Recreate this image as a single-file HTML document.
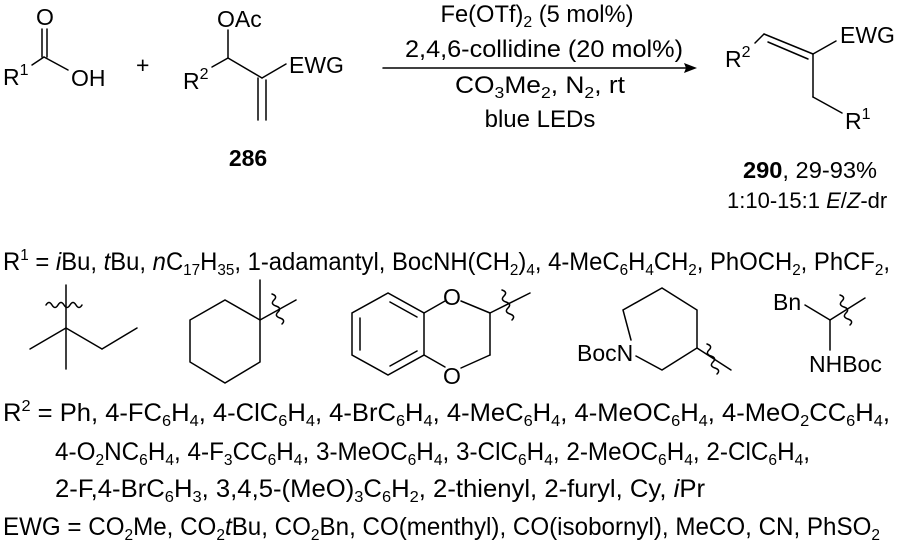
<!DOCTYPE html>
<html><head><meta charset="utf-8"><style>
html,body{margin:0;padding:0;background:#fff;}
svg{display:block;}
text{font-family:"Liberation Sans",Arial,sans-serif;fill:#000;}
</style></head><body>
<svg width="900" height="547" viewBox="0 0 900 547" xmlns="http://www.w3.org/2000/svg">
<g stroke="#000" stroke-width="1.5" fill="none" stroke-linecap="round">
<line x1="42" y1="29" x2="42" y2="57"/><line x1="47" y1="29" x2="47" y2="57"/>
<line x1="44" y1="57" x2="32" y2="65"/><line x1="44" y1="57" x2="68" y2="70"/>
<line x1="228" y1="30" x2="228" y2="58"/>
<line x1="228" y1="58" x2="212" y2="67"/>
<line x1="228" y1="58" x2="262" y2="78"/>
<line x1="262" y1="78" x2="286" y2="64"/>
<line x1="258" y1="78" x2="258" y2="120"/><line x1="266" y1="80" x2="266" y2="120"/>
<line x1="383" y1="68" x2="688" y2="68"/>
<line x1="755" y1="43" x2="764" y2="34"/>
<line x1="764" y1="34" x2="813" y2="54"/>
<line x1="768" y1="42" x2="808" y2="59"/>
<line x1="813" y1="54" x2="836" y2="41"/>
<line x1="813" y1="54" x2="813" y2="97"/>
<line x1="813" y1="97" x2="842" y2="113"/>
<line x1="66" y1="285" x2="66" y2="369"/>
<line x1="66" y1="328" x2="30" y2="349"/>
<line x1="66" y1="328" x2="102" y2="349"/>
<line x1="102" y1="349" x2="137" y2="328"/>
<path d="M46 305 q3 -5 6 0 t6 0 t6 0 t6 0 t6 0 t6 0"/>
<polygon points="260,320 225,300 190,320 190,362 225,383 260,362"/>
<line x1="260" y1="320" x2="260" y2="280"/>
<line x1="260" y1="320" x2="296" y2="300"/>
<path d="M272 294 q6 2 2 6 t2 6 t2 6 t2 6 t2 6"/>
<polygon points="388,293 352,313 352,355 388,375 424,355 424,313"/>
<line x1="360" y1="318" x2="360" y2="350"/>
<line x1="390" y1="302" x2="417" y2="317"/>
<line x1="390" y1="366" x2="417" y2="351"/>
<line x1="424" y1="313" x2="445" y2="301"/>
<line x1="461" y1="301" x2="490" y2="313"/>
<line x1="490" y1="313" x2="490" y2="355"/>
<line x1="490" y1="355" x2="461" y2="368"/>
<line x1="424" y1="355" x2="445" y2="367"/>
<line x1="490" y1="313" x2="530" y2="293"/>
<path d="M502 290 q6 2 2 6 t2 6 t2 6 t2 6 t2 6"/>
<polyline points="631,340 623,310 662,288 697,310 697,348 662,370 636,356"/>
<line x1="697" y1="348" x2="731" y2="370"/>
<path d="M707 344 q6 2 2 6 t2 6 t2 6 t2 6 t2 6"/>
<line x1="805" y1="305" x2="830" y2="320"/>
<line x1="830" y1="320" x2="865" y2="298"/>
<line x1="830" y1="320" x2="830" y2="350"/>
<path d="M840 295 q6 2 2 6 t2 6 t2 6 t2 6 t2 6"/>
</g>
<polygon points="697,68 684,63 686,68 684,73" fill="#000"/>
<g font-size="23">
<text x="45" y="25" text-anchor="middle">O</text>
<text x="3" y="85">R<tspan font-size="16" dy="-10">1</tspan></text>
<text x="71" y="86">OH</text>
<text x="136" y="73">+</text>
<text x="217" y="27">OAc</text>
<text x="183" y="89">R<tspan font-size="16" dy="-10">2</tspan></text>
<text x="289" y="73">EWG</text>
<text x="248" y="166" text-anchor="middle" font-weight="bold">286</text>
<g font-size="24">
<text x="537" y="22" text-anchor="middle" textLength="193" lengthAdjust="spacingAndGlyphs">Fe(OTf)<tspan font-size="16" dy="5">2</tspan><tspan dy="-5"> (5 mol%)</tspan></text>
<text x="544" y="57" text-anchor="middle" textLength="278" lengthAdjust="spacingAndGlyphs">2,4,6-collidine (20 mol%)</text>
<text x="540" y="93" text-anchor="middle" textLength="170" lengthAdjust="spacingAndGlyphs">CO<tspan font-size="16" dy="5">3</tspan><tspan dy="-5">Me</tspan><tspan font-size="16" dy="5">2</tspan><tspan dy="-5">, N</tspan><tspan font-size="16" dy="5">2</tspan><tspan dy="-5">, rt</tspan></text>
<text x="540" y="127" text-anchor="middle">blue LEDs</text>
</g>
<text x="725" y="67">R<tspan font-size="16" dy="-10">2</tspan></text>
<text x="840" y="43">EWG</text>
<text x="845" y="129">R<tspan font-size="16" dy="-10">1</tspan></text>
<text x="743" y="178" textLength="134" lengthAdjust="spacingAndGlyphs"><tspan font-weight="bold">290</tspan>, 29-93%</text>
<text x="727" y="208" font-size="22">1:10-15:1 <tspan font-style="italic">E</tspan>/<tspan font-style="italic">Z</tspan>-dr</text>

<g font-size="25">
<text x="3" y="270" textLength="887" lengthAdjust="spacingAndGlyphs">R<tspan font-size="16" dy="-10">1</tspan><tspan dy="10"> = </tspan><tspan font-style="italic">i</tspan>Bu, <tspan font-style="italic">t</tspan>Bu, <tspan font-style="italic">n</tspan>C<tspan font-size="16" dy="5">17</tspan><tspan dy="-5">H</tspan><tspan font-size="16" dy="5">35</tspan><tspan dy="-5">, 1-adamantyl, BocNH(CH</tspan><tspan font-size="16" dy="5">2</tspan><tspan dy="-5">)</tspan><tspan font-size="16" dy="5">4</tspan><tspan dy="-5">, 4-MeC</tspan><tspan font-size="16" dy="5">6</tspan><tspan dy="-5">H</tspan><tspan font-size="16" dy="5">4</tspan><tspan dy="-5">CH</tspan><tspan font-size="16" dy="5">2</tspan><tspan dy="-5">, PhOCH</tspan><tspan font-size="16" dy="5">2</tspan><tspan dy="-5">, PhCF</tspan><tspan font-size="16" dy="5">2</tspan><tspan dy="-5">,</tspan></text>
</g>
<text x="577" y="361">BocN</text>
<text x="773" y="310">Bn</text>
<text x="809" y="372">NHBoc</text>
<text x="443" y="305">O</text>
<text x="443" y="384">O</text>

<g font-size="25">
<text x="3" y="421" textLength="887" lengthAdjust="spacingAndGlyphs">R<tspan font-size="16" dy="-10">2</tspan><tspan dy="10"> = Ph, 4-FC</tspan><tspan font-size="16" dy="5">6</tspan><tspan dy="-5">H</tspan><tspan font-size="16" dy="5">4</tspan><tspan dy="-5">, 4-ClC</tspan><tspan font-size="16" dy="5">6</tspan><tspan dy="-5">H</tspan><tspan font-size="16" dy="5">4</tspan><tspan dy="-5">, 4-BrC</tspan><tspan font-size="16" dy="5">6</tspan><tspan dy="-5">H</tspan><tspan font-size="16" dy="5">4</tspan><tspan dy="-5">, 4-MeC</tspan><tspan font-size="16" dy="5">6</tspan><tspan dy="-5">H</tspan><tspan font-size="16" dy="5">4</tspan><tspan dy="-5">, 4-MeOC</tspan><tspan font-size="16" dy="5">6</tspan><tspan dy="-5">H</tspan><tspan font-size="16" dy="5">4</tspan><tspan dy="-5">, 4-MeO</tspan><tspan font-size="16" dy="5">2</tspan><tspan dy="-5">CC</tspan><tspan font-size="16" dy="5">6</tspan><tspan dy="-5">H</tspan><tspan font-size="16" dy="5">4</tspan><tspan dy="-5">,</tspan></text>

<text x="55" y="460" textLength="755" lengthAdjust="spacingAndGlyphs">4-O<tspan font-size="16" dy="5">2</tspan><tspan dy="-5">NC</tspan><tspan font-size="16" dy="5">6</tspan><tspan dy="-5">H</tspan><tspan font-size="16" dy="5">4</tspan><tspan dy="-5">, 4-F</tspan><tspan font-size="16" dy="5">3</tspan><tspan dy="-5">CC</tspan><tspan font-size="16" dy="5">6</tspan><tspan dy="-5">H</tspan><tspan font-size="16" dy="5">4</tspan><tspan dy="-5">, 3-MeOC</tspan><tspan font-size="16" dy="5">6</tspan><tspan dy="-5">H</tspan><tspan font-size="16" dy="5">4</tspan><tspan dy="-5">, 3-ClC</tspan><tspan font-size="16" dy="5">6</tspan><tspan dy="-5">H</tspan><tspan font-size="16" dy="5">4</tspan><tspan dy="-5">, 2-MeOC</tspan><tspan font-size="16" dy="5">6</tspan><tspan dy="-5">H</tspan><tspan font-size="16" dy="5">4</tspan><tspan dy="-5">, 2-ClC</tspan><tspan font-size="16" dy="5">6</tspan><tspan dy="-5">H</tspan><tspan font-size="16" dy="5">4</tspan><tspan dy="-5">,</tspan></text>

<text x="55" y="497" textLength="650" lengthAdjust="spacingAndGlyphs">2-F,4-BrC<tspan font-size="16" dy="5">6</tspan><tspan dy="-5">H</tspan><tspan font-size="16" dy="5">3</tspan><tspan dy="-5">, 3,4,5-(MeO)</tspan><tspan font-size="16" dy="5">3</tspan><tspan dy="-5">C</tspan><tspan font-size="16" dy="5">6</tspan><tspan dy="-5">H</tspan><tspan font-size="16" dy="5">2</tspan><tspan dy="-5">, 2-thienyl, 2-furyl, Cy, </tspan><tspan font-style="italic">i</tspan>Pr</text>

<text x="3" y="535" textLength="877" lengthAdjust="spacingAndGlyphs">EWG = CO<tspan font-size="16" dy="5">2</tspan><tspan dy="-5">Me, CO</tspan><tspan font-size="16" dy="5">2</tspan><tspan dy="-5" font-style="italic">t</tspan>Bu, CO<tspan font-size="16" dy="5">2</tspan><tspan dy="-5">Bn, CO(menthyl), CO(isobornyl), MeCO, CN, PhSO</tspan><tspan font-size="16" dy="5">2</tspan></text>
</g>
</g>
</svg>
</body></html>
